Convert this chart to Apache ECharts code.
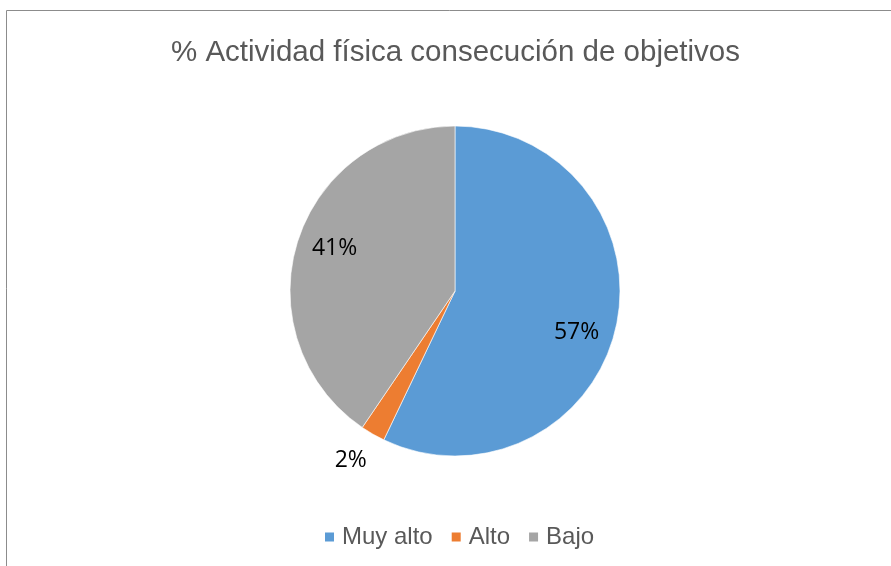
<!DOCTYPE html>
<html>
<head>
<meta charset="utf-8">
<script src="https://cdn.jsdelivr.net/npm/echarts@6/dist/echarts.min.js"></script>
<style>
  html, body { margin: 0; padding: 0; background: #fff; }
  #chart { width: 891px; height: 566px; }
</style>
</head>
<body>
<div id="chart"></div>
<script>
var titleText = '% Actividad física consecución de objetivos';
var categories = ['Muy alto', 'Alto', 'Bajo'];
var values = [57.1, 2.4, 40.5];
var colors = ['#5B9BD5', '#ED7D31', '#A5A5A5'];

var chart = echarts.init(document.getElementById('chart'));

var pieData = categories.map(function(name, i) {
    var item = { name: name, value: values[i], itemStyle: { color: colors[i] } };
    if (i === 1) {
        item.label = {
            show: true,
            position: 'outside',
            formatter: '{d}%',
            fontFamily: 'Open Sans',
            fontSize: 23,
            color: '#000',
            distanceToLabelLine: -9
        };
        item.labelLine = { show: false, length: 30, length2: 0 };
    }
    return item;
});

// same slices, transparent, only there to place the inner labels further out
var labelData = categories.map(function(name, i) {
    return {
        name: name,
        value: values[i],
        itemStyle: { color: 'rgba(0,0,0,0)' },
        label: { show: i !== 1 }
    };
});

var option = {
    animation: false,
    title: {
        text: titleText,
        left: 166,
        top: 33,
        textStyle: {
            fontFamily: 'Liberation Sans',
            fontSize: 29.5,
            fontWeight: 'normal',
            color: '#595959'
        }
    },
    legend: {
        bottom: 12,
        left: 318,
        icon: 'rect',
        itemWidth: 11,
        itemHeight: 11,
        itemGap: 17,
        data: categories,
        textStyle: {
            fontFamily: 'Liberation Sans',
            fontSize: 24,
            color: '#595959',
            padding: [0, 0, 0, 2]
        }
    },
    graphic: [{
        type: 'rect',
        shape: { x: 6.5, y: 10.5, width: 900, height: 600 },
        style: { fill: 'none', stroke: '#8c8c8c', lineWidth: 1 },
        silent: true,
        z: -1
    }],
    series: [{
        type: 'pie',
        center: [455, 291],
        radius: 165,
        startAngle: 90,
        clockwise: true,
        percentPrecision: 0,
        itemStyle: { borderColor: '#fff', borderWidth: 0.6 },
        label: { show: false },
        labelLine: { show: false },
        emphasis: { disabled: true },
        data: pieData
    }, {
        type: 'pie',
        center: [455, 291],
        radius: [85, 165],
        startAngle: 86,
        clockwise: true,
        percentPrecision: 0,
        silent: true,
        label: {
            position: 'inside',
            formatter: '{d}%',
            fontFamily: 'Open Sans',
            fontSize: 23,
            color: '#000',
            offset: [-1, 4]
        },
        labelLine: { show: false },
        emphasis: { disabled: true },
        data: labelData
    }]
};

chart.setOption(option);
</script>
</body>
</html>
